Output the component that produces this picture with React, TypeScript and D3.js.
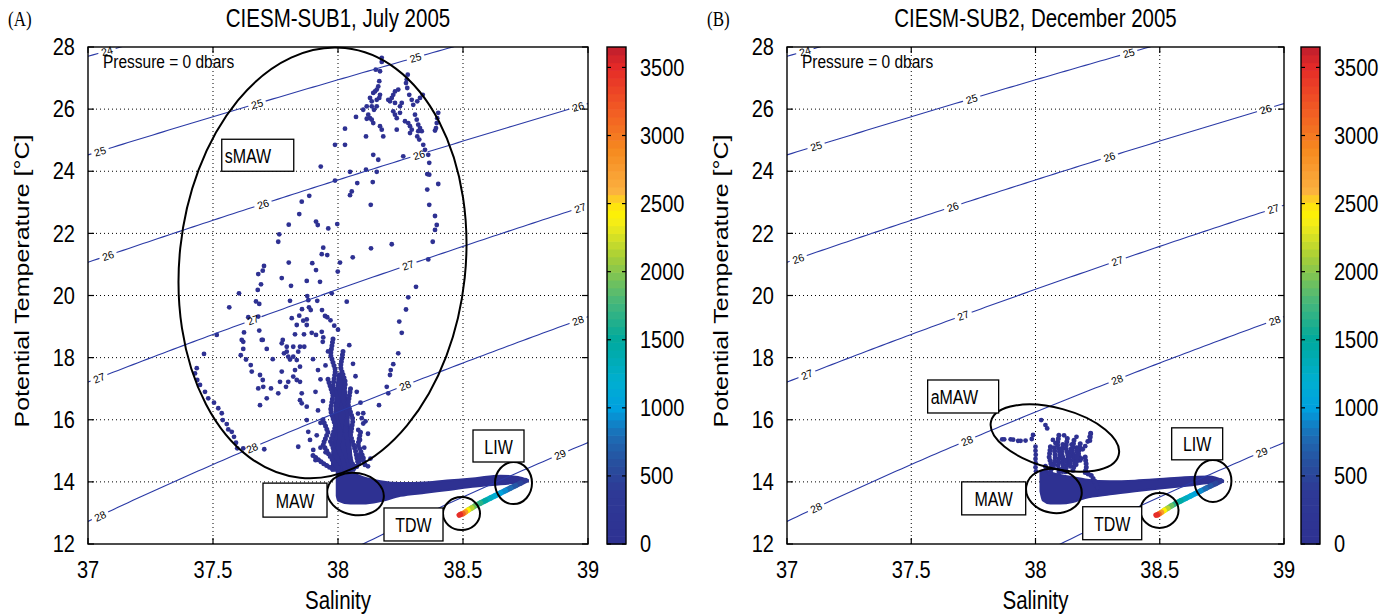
import React from "react";
import * as d3 from "d3";

// ---------- axes & scales ----------
const salinityTicks = [37, 37.5, 38, 38.5, 39];
const temperatureTicks = [12, 14, 16, 18, 20, 22, 24, 26, 28];
const sigmaLevels = [24, 25, 26, 27, 28, 29];
const pressureTicks = [0, 500, 1000, 1500, 2000, 2500, 3000, 3500];
const pressureMax = 3650;

const panelTags = ["(A)", "(B)"];
const panelTitles = ["CIESM-SUB1, July 2005", "CIESM-SUB2, December 2005"];

// pressure colormap (dbar -> colour)
const colormapPressure = [0, 400, 600, 800, 1000, 1200, 1500, 1800, 2100, 2350, 2450, 2600, 2900, 3200, 3500, 3650];
const colormapColors = [
  "#2e3192", "#2e3a96", "#27509f", "#1c6db5", "#00a0df", "#00afd0", "#00a99d", "#4cb877",
  "#a4cd39", "#f3ec19", "#fff200", "#fbb040", "#f6891f", "#f15a24", "#e52a28", "#be1e2d",
];

// ---------- July 2005 (SUB1) ----------
// surface-layer profiles, [salinity, potential temperature]
const julyScatter: [number, number][] = [
  [38.175, 27.65], [38.175, 27.52], [38.168, 27.22], [38.151, 27.27], [38.279, 27.11], [38.275, 26.95],
  [38.272, 26.84], [38.165, 26.9], [38.161, 26.73], [38.155, 26.63], [38.148, 26.57], [38.141, 26.52],
  [38.168, 26.46], [38.165, 26.36], [38.155, 26.3], [38.135, 26.25], [38.128, 26.36], [38.241, 26.63],
  [38.228, 26.57], [38.221, 26.46], [38.215, 26.36], [38.201, 26.3], [38.208, 26.25], [38.228, 26.2],
  [38.248, 26.09], [38.255, 26.2], [38.277, 26.68], [38.285, 26.46], [38.295, 26.3], [38.301, 26.14],
  [38.339, 26.46], [38.328, 26.36], [38.317, 26.25], [38.135, 26.09], [38.144, 25.98], [38.155, 26.09],
  [38.115, 26.09], [38.101, 25.98], [38.121, 25.82], [38.128, 25.71], [38.135, 25.66], [38.115, 25.69],
  [38.072, 25.75], [38.221, 25.93], [38.228, 25.82], [38.235, 25.71], [38.248, 25.88], [38.268, 25.61],
  [38.281, 25.55], [38.288, 25.45], [38.295, 25.34], [38.288, 25.23], [38.308, 25.82], [38.315, 25.66],
  [38.321, 25.5], [38.328, 25.39], [38.335, 25.29], [38.321, 25.29], [38.317, 25.12], [38.325, 25.02],
  [38.341, 24.85], [38.348, 24.69], [38.401, 25.88], [38.397, 25.71], [38.395, 25.55], [38.392, 25.39],
  [38.388, 25.31], [38.141, 25.55], [38.168, 25.45], [38.175, 25.34], [38.181, 25.12], [38.235, 25.34],
  [38.112, 25.12], [38.028, 25.37], [37.988, 24.85], [38.028, 24.85], [38.141, 24.53], [38.161, 24.37],
  [38.261, 24.48], [38.361, 24.53], [38.365, 24.27], [38.357, 23.91], [38.365, 23.89], [38.048, 23.98],
  [38.112, 24.05], [38.155, 23.98], [37.988, 23.7], [38.077, 23.62], [38.139, 23.65], [38.401, 23.59],
  [38.055, 23.35], [38.048, 23.23], [38.131, 22.92], [38.357, 23.41], [38.365, 22.92], [37.931, 24.15],
  [37.885, 23.21], [37.855, 23.02], [37.845, 22.62], [37.803, 22.28], [37.912, 22.38], [37.919, 22.27],
  [37.961, 22.16], [37.997, 22.3], [37.765, 21.97], [37.761, 21.73], [37.941, 21.54], [37.935, 21.33],
  [37.957, 21.3], [38.132, 21.52], [38.059, 21.23], [37.803, 21.06], [37.897, 21.04], [37.912, 20.82],
  [38.008, 21.06], [37.999, 20.77], [37.704, 20.95], [37.699, 20.8], [37.681, 20.69], [37.692, 20.36],
  [37.679, 20.18], [37.775, 20.56], [37.812, 20.31], [37.875, 20.47], [37.928, 20.44], [37.604, 20.07],
  [37.565, 19.62], [37.672, 19.81], [37.685, 19.73], [37.808, 19.83], [37.877, 19.98], [37.881, 19.85],
  [37.917, 19.83], [37.975, 20.07], [38.035, 19.8], [37.641, 19.3], [37.681, 19.32], [37.856, 19.56],
  [37.884, 19.62], [37.891, 19.53], [37.936, 19.53], [37.948, 19.34], [37.957, 19.3], [37.815, 19.27],
  [37.845, 19.35], [37.861, 19.19], [37.875, 19.23], [37.515, 18.73], [37.624, 18.81], [37.685, 18.87],
  [37.699, 18.57], [37.621, 18.51], [37.779, 18.57], [37.828, 18.75], [37.835, 19.05], [37.875, 19.05],
  [37.864, 18.75], [37.895, 18.8], [37.912, 18.73], [37.935, 18.83], [37.941, 18.65], [37.985, 19.03],
  [37.939, 18.51], [37.795, 18.35], [37.821, 18.35], [37.848, 18.35], [37.865, 18.35], [37.621, 18.28],
  [37.715, 18.28], [37.464, 18.12], [37.435, 17.66], [37.428, 17.49], [37.437, 17.28], [37.448, 17.12],
  [37.468, 16.9], [37.481, 16.69], [37.504, 16.55], [37.521, 16.37], [37.535, 16.21], [37.539, 15.99],
  [37.555, 15.86], [37.561, 15.69], [37.575, 15.61], [37.584, 15.45], [37.592, 15.26], [37.597, 15.08],
  [37.621, 15.08], [37.705, 15.05], [37.615, 18.57], [37.611, 18.08], [37.632, 17.94], [37.651, 17.76],
  [37.655, 17.55], [37.688, 17.44], [37.699, 17.28], [37.701, 17.06], [37.681, 17.01], [37.715, 16.69],
  [37.688, 16.47], [37.695, 18.57], [37.739, 17.95], [37.732, 17.01], [37.761, 16.85], [37.775, 17.55],
  [37.768, 17.22], [37.792, 17.06], [37.801, 17.22], [37.775, 18.46], [37.784, 18.14], [37.795, 18.19],
  [37.801, 18.03], [37.808, 17.94], [37.821, 18.03], [37.835, 17.92], [37.841, 18.19], [37.848, 17.71],
  [37.828, 17.6], [37.821, 17.39], [37.835, 17.28], [37.848, 17.22], [37.855, 16.85], [37.848, 16.63],
  [37.855, 16.53], [37.875, 16.42], [37.841, 15.13], [37.875, 15.99], [37.881, 15.61], [37.888, 15.35],
  [37.901, 15.03], [38.388, 22.56], [38.395, 22.27], [38.388, 22.11], [38.379, 21.73], [38.361, 21.16],
  [38.312, 20.28], [38.281, 19.94], [38.272, 19.55], [38.245, 19.16], [38.255, 18.8], [38.241, 18.14],
  [38.221, 17.79], [38.211, 17.6], [38.208, 17.44], [38.195, 17.06], [38.201, 16.85], [38.164, 16.47],
  [38.101, 16.21], [38.095, 16.05], [38.101, 15.88], [38.081, 15.67], [38.088, 15.35], [38.085, 14.81],
  [38.075, 14.49], [38.215, 21.65],
  // around the 14-18 °C column
  [37.9, 17.95], [37.92, 17.6], [37.95, 17.75], [37.96, 18.2], [37.93, 17.3], [37.91, 16.9], [37.94, 16.6],
  [37.92, 16.3], [37.93, 15.9], [37.915, 15.5], [37.93, 15.1], [37.91, 14.7], [37.95, 14.95], [38.07, 17.4],
  [38.075, 16.9], [38.09, 16.55], [38.08, 16.2], [38.11, 15.95], [38.12, 15.55], [38.105, 15.1], [38.13, 14.75],
  [38.12, 14.5], [38.06, 17.8], [38.045, 18.4], [38.0, 18.9], [37.97, 19.2],
];

// densely sampled profiles in the 14-18 °C column
const julyTraces: [number, number][][] = [
  [[37.98, 18.6], [37.97, 18.1], [37.99, 17.6], [37.98, 17.1], [38.0, 16.6], [37.99, 16.1], [38.01, 15.6], [38.0, 15.1], [38.02, 14.7], [38.03, 14.35]],
  [[38.02, 18.2], [38.01, 17.7], [38.03, 17.2], [38.02, 16.7], [38.04, 16.2], [38.03, 15.7], [38.04, 15.2], [38.05, 14.7], [38.07, 14.4]],
  [[37.96, 17.3], [37.98, 16.8], [37.97, 16.3], [37.99, 15.8], [37.97, 15.3], [37.99, 14.9], [38.01, 14.5]],
  [[38.05, 17.0], [38.04, 16.5], [38.06, 16.0], [38.05, 15.5], [38.07, 15.0], [38.08, 14.6]],
  [[37.94, 16.0], [37.96, 15.6], [37.94, 15.2], [37.97, 14.8], [38.0, 14.45]],
  [[38.09, 15.6], [38.08, 15.2], [38.1, 14.8], [38.11, 14.5]],
  [[37.9, 14.85], [37.94, 14.6], [37.98, 14.4]],
  [[38.09, 14.9], [38.085, 14.6], [38.06, 14.4]],
];

// solid core of the column
const julyColumnT = [14.35, 14.8, 15.3, 15.8, 16.3, 16.8, 17.2, 17.5];
const julyColumnLeft = [37.975, 37.975, 37.98, 37.985, 37.985, 37.99, 37.995, 38.0];
const julyColumnRight = [38.065, 38.055, 38.05, 38.045, 38.04, 38.035, 38.025, 38.015];

// MAW -> LIW intermediate band envelope
const julyBandSal = [37.995, 38.0, 38.05, 38.1, 38.17, 38.25, 38.35, 38.45, 38.55, 38.65, 38.72, 38.76];
const julyBandTop = [14.35, 14.42, 14.32, 14.15, 14.02, 13.96, 13.98, 14.05, 14.12, 14.2, 14.16, 14.06];
const julyBandBottom = [13.55, 13.4, 13.3, 13.3, 13.38, 13.55, 13.65, 13.75, 13.85, 13.92, 13.98, 14.02];

// LIW -> TDW deep branch, [salinity, temperature, pressure]
const julyDeep: [number, number, number][] = [
  [38.75, 14.04, 250], [38.73, 13.96, 420], [38.71, 13.88, 580], [38.69, 13.8, 720], [38.67, 13.72, 860],
  [38.65, 13.64, 980], [38.63, 13.56, 1100], [38.61, 13.48, 1230], [38.59, 13.4, 1380], [38.57, 13.32, 1560],
  [38.55, 13.24, 1780], [38.535, 13.16, 2020], [38.52, 13.09, 2300], [38.51, 13.03, 2600], [38.5, 12.98, 2950],
  [38.49, 12.95, 3350], [38.485, 12.93, 3600],
];

// ---------- December 2005 (SUB2) ----------
const decScatter: [number, number][] = [
  [38.023, 15.99], [38.04, 15.83], [38.047, 15.72], [37.99, 15.51],
  [37.866, 15.37], [37.874, 15.37], [37.9, 15.37], [37.91, 15.36], [37.93, 15.32], [37.94, 15.32],
  [37.96, 15.33], [37.985, 15.38],
  [38.0, 15.13], [38.0, 15.0], [38.001, 14.87], [38.0, 14.74], [38.001, 14.6], [38.0, 14.47], [38.002, 14.34],
  [38.1, 14.9], [38.11, 14.8], [38.12, 14.7], [38.14, 14.65], [38.105, 14.62], [38.135, 14.85],
  [38.222, 15.57], [38.218, 15.45], [38.21, 15.3], [38.19, 15.05], [38.165, 15.45], [38.08, 15.25],
  [38.07, 15.35], [38.115, 15.5], [38.145, 15.2], [38.2, 15.15], [38.185, 14.75],
];
const decTraces: [number, number][][] = [
  [[38.094, 15.5], [38.088, 15.2], [38.099, 14.9], [38.09, 14.6], [38.095, 14.3]],
  [[38.06, 15.13], [38.055, 14.8], [38.065, 14.5], [38.058, 14.25]],
  [[38.128, 15.4], [38.122, 15.1], [38.132, 14.8], [38.124, 14.5], [38.12, 14.28]],
  [[38.155, 15.34], [38.148, 15.0], [38.158, 14.6], [38.15, 14.35]],
  [[38.18, 15.23], [38.173, 14.9], [38.182, 14.6]],
  [[38.075, 15.1], [38.08, 14.8], [38.072, 14.45]],
  [[38.11, 15.2], [38.105, 14.95], [38.112, 14.5], [38.107, 14.3]],
  [[38.142, 15.05], [38.138, 14.7], [38.142, 14.4]],
  [[38.165, 15.1], [38.168, 14.8], [38.162, 14.5]],
  [[38.222, 15.55], [38.218, 15.3]],
  [[38.2, 14.8], [38.205, 14.5], [38.2, 14.3]],
  [[38.2, 14.3], [38.225, 14.2], [38.24, 14.0], [38.25, 13.8]],
  [[38.04, 14.5], [38.045, 14.3]],
];
const decBandSal = [38.02, 38.03, 38.06, 38.1, 38.15, 38.2, 38.3, 38.4, 38.5, 38.6, 38.7, 38.755];
const decBandTop = [14.3, 14.38, 14.3, 14.22, 14.15, 14.08, 14.02, 14.04, 14.09, 14.15, 14.17, 14.05];
const decBandBottom = [13.7, 13.4, 13.3, 13.3, 13.35, 13.48, 13.6, 13.7, 13.79, 13.87, 13.96, 14.0];
const decDeep: [number, number, number][] = [
  [38.745, 14.03, 250], [38.725, 13.95, 420], [38.705, 13.87, 580], [38.685, 13.79, 720], [38.665, 13.71, 860],
  [38.645, 13.63, 980], [38.625, 13.55, 1100], [38.605, 13.47, 1230], [38.585, 13.39, 1380], [38.565, 13.31, 1560],
  [38.547, 13.23, 1780], [38.532, 13.15, 2020], [38.518, 13.08, 2300], [38.507, 13.02, 2600], [38.497, 12.97, 2950],
  [38.49, 12.94, 3350], [38.485, 12.93, 3600],
];

// ---------- contour label salinities ----------
const julyContourLabels: [number, number][] = [
  [24, 37.076], [25, 37.048], [25, 37.676], [25, 38.31], [26, 37.08], [26, 37.7], [26, 38.324], [26, 38.96],
  [27, 37.044], [27, 37.66], [27, 38.28], [27, 38.968], [28, 37.048], [28, 37.656], [28, 38.268], [28, 38.96],
  [29, 38.888],
];
const decContourLabels: [number, number][] = [
  [24, 37.072], [25, 37.117], [25, 37.743], [25, 38.375], [26, 37.045], [26, 37.667], [26, 38.297], [26, 38.926],
  [27, 37.08], [27, 37.709], [27, 38.329], [27, 38.957], [28, 37.117], [28, 37.724], [28, 38.328], [28, 38.962],
  [29, 38.91],
];

// ---------- water-mass annotations ----------
type Ellipse = { S: number; T: number; rx: number; ry: number; tilt: number };
type Box = { text: string; S: number; T: number; w: number; h: number; align: "left" | "middle" };

const julyEllipses: Ellipse[] = [
  { S: 37.938, T: 21.05, rx: 143, ry: 216, tilt: 6 },
  { S: 38.07, T: 13.61, rx: 28.5, ry: 21, tilt: 10 },
  { S: 38.494, T: 12.98, rx: 18.5, ry: 16.5, tilt: 0 },
  { S: 38.702, T: 13.96, rx: 18.5, ry: 21, tilt: 0 },
];
const julyBoxes: Box[] = [
  { text: "sMAW", S: 37.535, T: 25.03, w: 72, h: 32, align: "left" },
  { text: "MAW", S: 37.7, T: 13.96, w: 64, h: 34, align: "middle" },
  { text: "TDW", S: 38.184, T: 13.16, w: 59, h: 33, align: "middle" },
  { text: "LIW", S: 38.54, T: 15.67, w: 51, h: 32, align: "middle" },
];
const decEllipses: Ellipse[] = [
  { S: 38.078, T: 15.41, rx: 66, ry: 30, tilt: 15 },
  { S: 38.074, T: 13.71, rx: 28, ry: 22, tilt: 10 },
  { S: 38.499, T: 13.08, rx: 19, ry: 17.5, tilt: 0 },
  { S: 38.714, T: 14.03, rx: 18.5, ry: 21, tilt: 0 },
];
const decBoxes: Box[] = [
  { text: "aMAW", S: 37.566, T: 17.28, w: 71, h: 33, align: "left" },
  { text: "MAW", S: 37.703, T: 14.0, w: 64, h: 33, align: "middle" },
  { text: "TDW", S: 38.19, T: 13.2, w: 59, h: 33, align: "middle" },
  { text: "LIW", S: 38.548, T: 15.74, w: 51, h: 32, align: "middle" },
];

// ---------- physics: UNESCO EOS-80 density at p = 0 ----------
function sigma0(S: number, T: number): number {
  const smow =
    999.842594 + T * (6.793952e-2 + T * (-9.09529e-3 + T * (1.001685e-4 + T * (-1.120083e-6 + T * 6.536332e-9))));
  const b = 8.24493e-1 + T * (-4.0899e-3 + T * (7.6438e-5 + T * (-8.2467e-7 + T * 5.3875e-9)));
  const c = -5.72466e-3 + T * (1.0227e-4 + T * -1.6546e-6);
  return smow + b * S + c * S * Math.sqrt(S) + 4.8314e-4 * S * S - 1000;
}
function isopycnalTemperature(S: number, level: number): number {
  let lo = 0;
  let hi = 40;
  for (let i = 0; i < 50; i++) {
    const mid = (lo + hi) / 2;
    if (sigma0(S, mid) > level) lo = mid;
    else hi = mid;
  }
  return (lo + hi) / 2;
}

const FONT = "'Liberation Sans', Arial, Helvetica, sans-serif";
const TOP = 47;
const BOTTOM = 544;
const DOT_BLUE = "#2e3192";
const STRETCH = 1.22; // glyphs are drawn slightly tall, as in the printed figure

const colour = d3.scaleLinear<string>().domain(colormapPressure).range(colormapColors).interpolate(d3.interpolateRgb);

type TextProps = React.SVGProps<SVGTextElement> & { x: number; y: number; rot?: number };
function Label({ x, y, rot, children, ...rest }: TextProps) {
  return (
    <text
      transform={`translate(${x},${y}) scale(1,${STRETCH})${rot ? ` rotate(${rot})` : ""}`}
      fontFamily={FONT}
      {...rest}
    >
      {children}
    </text>
  );
}

type PanelProps = {
  id: string;
  tag: string;
  title: string;
  x0: number;
  x1: number;
  cb0: number;
  cb1: number;
  scatter: [number, number][];
  traces: [number, number][][];
  column?: { T: number[]; left: number[]; right: number[] };
  bandSal: number[];
  bandTop: number[];
  bandBottom: number[];
  deep: [number, number, number][];
  contourLabels: [number, number][];
  ellipses: Ellipse[];
  boxes: Box[];
};

function Panel(p: PanelProps) {
  const x = d3.scaleLinear().domain([37, 39]).range([p.x0, p.x1]);
  const y = d3.scaleLinear().domain([12, 28]).range([BOTTOM, TOP]);
  const midX = (p.x0 + p.x1) / 2;

  const line = d3
    .line<[number, number]>()
    .x((d) => x(d[0]))
    .y((d) => y(d[1]));

  const salGrid = d3.range(36.8, 39.21, 0.02);
  const contours = sigmaLevels.map((lev) => ({
    lev,
    d: line(salGrid.map((s) => [s, isopycnalTemperature(s, lev)] as [number, number])) || "",
  }));

  const labels = p.contourLabels.map(([lev, s]) => {
    const t = isopycnalTemperature(s, lev);
    const t2 = isopycnalTemperature(s + 0.01, lev);
    const px = x(s);
    const py = y(t);
    const ang = (Math.atan2(y(t2) - py, x(s + 0.01) - px) * 180) / Math.PI;
    return { lev, px, py, ang };
  });

  const band = d3
    .area<number>()
    .x((_, i) => x(p.bandSal[i]))
    .y0((_, i) => y(p.bandBottom[i]))
    .y1((_, i) => y(p.bandTop[i]))
    .curve(d3.curveMonotoneX);

  let columnPath = "";
  if (p.column) {
    const col = p.column;
    columnPath =
      d3
        .area<number>()
        .y((_, i) => y(col.T[i]))
        .x0((_, i) => x(col.left[i]))
        .x1((_, i) => x(col.right[i]))
        .curve(d3.curveMonotoneY)(col.T) || "";
  }

  const cbScale = d3.scaleLinear().domain([0, pressureMax]).range([BOTTOM, TOP]);
  const nBands = 64;
  const cbStep = pressureMax / nBands;

  return (
    <g>
      <defs>
        <clipPath id={`clip-${p.id}`}>
          <rect x={p.x0} y={TOP} width={p.x1 - p.x0} height={BOTTOM - TOP} />
        </clipPath>
        <mask id={`mask-${p.id}`}>
          <rect x={p.x0 - 20} y={TOP - 20} width={p.x1 - p.x0 + 40} height={BOTTOM - TOP + 40} fill="white" />
          {labels.map((l, i) => (
            <rect
              key={i}
              x={-9}
              y={-5}
              width={18}
              height={10}
              fill="black"
              transform={`translate(${l.px},${l.py}) rotate(${l.ang})`}
            />
          ))}
        </mask>
      </defs>

      {/* tag and title */}
      <text
        transform={`translate(${p.x0 - 80},${26}) scale(1,${STRETCH})`}
        fontFamily="'Liberation Serif', 'Times New Roman', serif"
        fontSize={17}
      >
        {p.tag}
      </text>
      <Label x={midX} y={18} textAnchor="middle" dominantBaseline="central" fontSize={20.5}>
        {p.title}
      </Label>

      {/* grid */}
      <g stroke="#000" strokeWidth={1} strokeDasharray="1 3">
        {salinityTicks.slice(1, -1).map((s) => (
          <line key={s} x1={x(s)} x2={x(s)} y1={TOP} y2={BOTTOM} />
        ))}
        {temperatureTicks.slice(1, -1).map((t) => (
          <line key={t} x1={p.x0} x2={p.x1} y1={y(t)} y2={y(t)} />
        ))}
      </g>

      {/* observations */}
      <g clipPath={`url(#clip-${p.id})`}>
        <path d={band(p.bandSal) || ""} fill={DOT_BLUE} stroke={DOT_BLUE} strokeWidth={2} strokeLinejoin="round" />
        {columnPath && <path d={columnPath} fill={DOT_BLUE} stroke={DOT_BLUE} strokeWidth={1.5} />}
        {p.traces.map((tr, i) => (
          <path
            key={i}
            d={line(tr) || ""}
            fill="none"
            stroke={DOT_BLUE}
            strokeWidth={5}
            strokeLinecap="round"
            strokeLinejoin="round"
            strokeDasharray="0 3.4"
          />
        ))}
        {p.scatter.map((d, i) => (
          <circle key={i} cx={x(d[0])} cy={y(d[1])} r={2.4} fill={DOT_BLUE} />
        ))}
        {p.deep.slice(1).map((d, i) => {
          const a = p.deep[i];
          return (
            <line
              key={i}
              x1={x(a[0])}
              y1={y(a[1])}
              x2={x(d[0])}
              y2={y(d[1])}
              stroke={colour((a[2] + d[2]) / 2)}
              strokeWidth={5.5}
              strokeLinecap="round"
            />
          );
        })}
      </g>

      {/* isopycnals */}
      <g clipPath={`url(#clip-${p.id})`}>
        <g mask={`url(#mask-${p.id})`}>
          {contours.map((c) => (
            <path key={c.lev} d={c.d} fill="none" stroke="#2b3aa6" strokeWidth={1.1} />
          ))}
        </g>
      </g>
      {labels.map((l, i) => (
        <text
          key={i}
          transform={`translate(${l.px},${l.py}) rotate(${l.ang})`}
          textAnchor="middle"
          dominantBaseline="central"
          fontFamily={FONT}
          fontSize={10.5}
          fill="#000"
        >
          {l.lev}
        </text>
      ))}

      <Label x={p.x0 + 15} y={TOP + 14} dominantBaseline="central" fontSize={15.5}>
        Pressure = 0 dbars
      </Label>

      {/* water-mass ellipses and labels */}
      {p.ellipses.map((e, i) => (
        <ellipse
          key={i}
          cx={x(e.S)}
          cy={y(e.T)}
          rx={e.rx}
          ry={e.ry}
          transform={`rotate(${e.tilt} ${x(e.S)} ${y(e.T)})`}
          fill="none"
          stroke="#000"
          strokeWidth={2}
        />
      ))}
      {p.boxes.map((b, i) => (
        <g key={i}>
          <rect x={x(b.S)} y={y(b.T)} width={b.w} height={b.h} fill="#fff" stroke="#000" strokeWidth={1.3} />
          <Label
            x={b.align === "left" ? x(b.S) + 3 : x(b.S) + b.w / 2}
            y={y(b.T) + b.h / 2 + 1}
            textAnchor={b.align === "left" ? "start" : "middle"}
            dominantBaseline="central"
            fontSize={16}
          >
            {b.text}
          </Label>
        </g>
      ))}

      {/* frame and ticks */}
      <rect x={p.x0} y={TOP} width={p.x1 - p.x0} height={BOTTOM - TOP} fill="none" stroke="#000" strokeWidth={1.4} />
      <g stroke="#000" strokeWidth={1.2}>
        {salinityTicks.map((s) => (
          <g key={s}>
            <line x1={x(s)} x2={x(s)} y1={BOTTOM} y2={BOTTOM - 6} />
            <line x1={x(s)} x2={x(s)} y1={TOP} y2={TOP + 6} />
          </g>
        ))}
        {temperatureTicks.map((t) => (
          <g key={t}>
            <line x1={p.x0} x2={p.x0 + 6} y1={y(t)} y2={y(t)} />
            <line x1={p.x1} x2={p.x1 - 6} y1={y(t)} y2={y(t)} />
          </g>
        ))}
      </g>
      {salinityTicks.map((s) => (
        <Label key={s} x={x(s)} y={570} textAnchor="middle" dominantBaseline="central" fontSize={20}>
          {s}
        </Label>
      ))}
      {temperatureTicks.map((t) => (
        <Label key={t} x={p.x0 - 13} y={y(t)} textAnchor="end" dominantBaseline="central" fontSize={20}>
          {t}
        </Label>
      ))}
      <Label x={midX} y={600} textAnchor="middle" dominantBaseline="central" fontSize={20.5}>
        Salinity
      </Label>
      <text
        transform={`translate(${p.x0 - 59},281) scale(1,${STRETCH}) rotate(-90)`}
        textAnchor="middle"
        fontFamily={FONT}
        fontSize={20.5}
      >
        Potential Temperature [°C]
      </text>

      {/* colorbar */}
      {d3.range(nBands).map((k) => (
        <rect
          key={k}
          x={p.cb0}
          y={cbScale((k + 1) * cbStep)}
          width={p.cb1 - p.cb0}
          height={cbScale(k * cbStep) - cbScale((k + 1) * cbStep) + 0.6}
          fill={colour((k + 0.5) * cbStep)}
        />
      ))}
      <rect x={p.cb0} y={TOP} width={p.cb1 - p.cb0} height={BOTTOM - TOP} fill="none" stroke="#000" strokeWidth={1.4} />
      <g stroke="#000" strokeWidth={1.2}>
        {pressureTicks.map((v) => (
          <g key={v}>
            <line x1={p.cb0} x2={p.cb0 + 4} y1={cbScale(v)} y2={cbScale(v)} />
            <line x1={p.cb1} x2={p.cb1 - 4} y1={cbScale(v)} y2={cbScale(v)} />
          </g>
        ))}
      </g>
      {pressureTicks.map((v) => (
        <Label key={v} x={p.cb1 + 14} y={cbScale(v)} dominantBaseline="central" fontSize={20}>
          {v}
        </Label>
      ))}
    </g>
  );
}

export default function App() {
  return (
    <svg
      width={1400}
      height={615}
      viewBox="0 0 1400 615"
      style={{ position: "absolute", left: 0, top: 0, background: "#fff" }}
    >
      <rect width={1400} height={615} fill="#fff" />
      <Panel
        id="a"
        tag={panelTags[0]}
        title={panelTitles[0]}
        x0={88}
        x1={588}
        cb0={607}
        cb1={626}
        scatter={julyScatter}
        traces={julyTraces}
        column={{ T: julyColumnT, left: julyColumnLeft, right: julyColumnRight }}
        bandSal={julyBandSal}
        bandTop={julyBandTop}
        bandBottom={julyBandBottom}
        deep={julyDeep}
        contourLabels={julyContourLabels}
        ellipses={julyEllipses}
        boxes={julyBoxes}
      />
      <Panel
        id="b"
        tag={panelTags[1]}
        title={panelTitles[1]}
        x0={787}
        x1={1284}
        cb0={1301}
        cb1={1320}
        scatter={decScatter}
        traces={decTraces}
        bandSal={decBandSal}
        bandTop={decBandTop}
        bandBottom={decBandBottom}
        deep={decDeep}
        contourLabels={decContourLabels}
        ellipses={decEllipses}
        boxes={decBoxes}
      />
    </svg>
  );
}
